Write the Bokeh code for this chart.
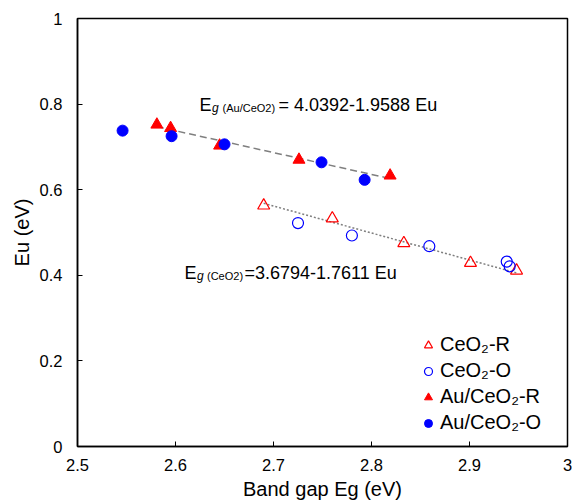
from bokeh.plotting import figure
from bokeh.models import Label, Legend, LegendItem, FixedTicker, Range1d
from bokeh.embed import file_html
from bokeh.resources import INLINE
import numpy as np

# ---- data (Band gap Eg in eV, Eu in eV) ----
ceo2_r_eg = [2.690, 2.760, 2.833, 2.901, 2.948]
ceo2_r_eu = [0.563, 0.533, 0.475, 0.429, 0.411]

ceo2_o_eg = [2.725, 2.780, 2.859, 2.938, 2.941]
ceo2_o_eu = [0.522, 0.493, 0.468, 0.432, 0.421]

au_r_eg = [2.581, 2.595, 2.645, 2.726, 2.819]
au_r_eu = [0.752, 0.744, 0.703, 0.670, 0.633]

au_o_eg = [2.546, 2.596, 2.650, 2.749, 2.793]
au_o_eu = [0.738, 0.725, 0.706, 0.664, 0.623]

x_ticks = [2.5, 2.6, 2.7, 2.8, 2.9, 3.0]
x_tick_labels = ["2.5", "2.6", "2.7", "2.8", "2.9", "3"]
y_ticks = [0.0, 0.2, 0.4, 0.6, 0.8, 1.0]
y_tick_labels = ["0", "0.2", "0.4", "0.6", "0.8", "1"]

FONT = "Liberation Sans"

p = figure(width=572, height=503, output_backend="svg", toolbar_location=None,
           x_range=Range1d(2.5, 3.0), y_range=Range1d(0, 1),
           min_border_left=77, min_border_right=5, min_border_top=18,
           min_border_bottom=57)
p.xgrid.visible = False
p.ygrid.visible = False
p.outline_line_color = "black"
p.outline_line_width = 1.5
p.background_fill_color = "white"
p.border_fill_color = "white"

for ax in (p.xaxis[0], p.yaxis[0]):
    ax.axis_line_color = "black"
    ax.axis_line_width = 1.5
    ax.major_tick_in = 5
    ax.major_tick_out = 0
    ax.minor_tick_in = 0
    ax.minor_tick_out = 0
    ax.major_tick_line_color = "black"
    ax.major_label_text_font = FONT
    ax.major_label_text_font_size = "16.5px"
    ax.major_label_text_color = "black"
    ax.axis_label_text_font = FONT
    ax.axis_label_text_font_size = "20px"
    ax.axis_label_text_font_style = "normal"
    ax.axis_label_text_color = "black"

p.xaxis.ticker = FixedTicker(ticks=x_ticks)
p.xaxis.major_label_overrides = dict(zip(x_ticks, x_tick_labels))
p.yaxis.ticker = FixedTicker(ticks=y_ticks)
p.yaxis.major_label_overrides = dict(zip(y_ticks, y_tick_labels))
p.xaxis.axis_label = "Band gap Eg (eV)"
p.yaxis.axis_label = "Eu (eV)"
p.xaxis.major_label_standoff = 12
p.xaxis.axis_label_standoff = 4
p.yaxis.major_label_standoff = 15
p.yaxis.axis_label_standoff = 4

# ---- linear trendlines (Eg = a + b*Eu) fitted on the R series ----
def trend(eg, eu):
    b, a = np.polyfit(eu, eg, 1)
    xs = np.array([min(eg), max(eg)])
    ys = (xs - a) / b
    return xs, ys

xs, ys = trend(au_r_eg, au_r_eu)
p.line(xs, ys, line_color="#7F7F7F", line_width=1.5, line_dash="7 4")
xs, ys = trend(ceo2_r_eg, ceo2_r_eu)
p.line(xs, ys, line_color="#7F7F7F", line_width=1.5, line_dash="2 2")

# ---- markers ----
r1 = p.scatter(ceo2_r_eg, ceo2_r_eu, marker="triangle", size=12,
               fill_color=None, line_color="#FF0000", line_width=1.2)
r2 = p.scatter(ceo2_o_eg, ceo2_o_eu, marker="circle", size=11,
               fill_color=None, line_color="#0000FF", line_width=1.2)
r3 = p.scatter(au_r_eg, au_r_eu, marker="triangle", size=12,
               fill_color="#FF0000", line_color="#FF0000")
r4 = p.scatter(au_o_eg, au_o_eu, marker="circle", size=11,
               fill_color="#0000FF", line_color="#0000FF")

legend = Legend(items=[
    LegendItem(label="CeO\u2082-R", renderers=[r1]),
    LegendItem(label="CeO\u2082-O", renderers=[r2]),
    LegendItem(label="Au/CeO\u2082-R", renderers=[r3]),
    LegendItem(label="Au/CeO\u2082-O", renderers=[r4]),
], location=(336, 7))
legend.border_line_alpha = 0
legend.background_fill_alpha = 0
legend.padding = 5
legend.margin = 0
legend.spacing = 3
legend.glyph_width = 20
legend.glyph_height = 20
legend.label_height = 20
legend.label_standoff = 2
legend.label_text_font = FONT
legend.label_text_font_size = "20px"
legend.label_text_color = "black"
p.add_layout(legend)

# ---- equation annotations ----
def equation(x, y, sub, rest, sub_dx, rest_dx):
    p.add_layout(Label(x=x, y=y, text="E", text_font=FONT, text_font_size="18px",
                       text_baseline="alphabetic", text_color="black"))
    p.add_layout(Label(x=x, y=y, x_offset=12.5, y_offset=-3, text="g", text_font=FONT,
                       text_font_size="12px", text_font_style="italic",
                       text_baseline="alphabetic", text_color="black"))
    p.add_layout(Label(x=x, y=y, x_offset=sub_dx, y_offset=-3, text=sub, text_font=FONT,
                       text_font_size="11px", text_baseline="alphabetic",
                       text_color="black"))
    p.add_layout(Label(x=x, y=y, x_offset=rest_dx, text=rest, text_font=FONT,
                       text_font_size="18px", text_baseline="alphabetic",
                       text_color="black"))

equation(2.6245, 0.797, "(Au/CeO2)", "= 4.0392-1.9588 Eu", 23, 79)
equation(2.6092, 0.4065, "(CeO2)", "=3.6794-1.7611 Eu", 22.5, 60)

open("out.html", "w").write(file_html(p, INLINE))
